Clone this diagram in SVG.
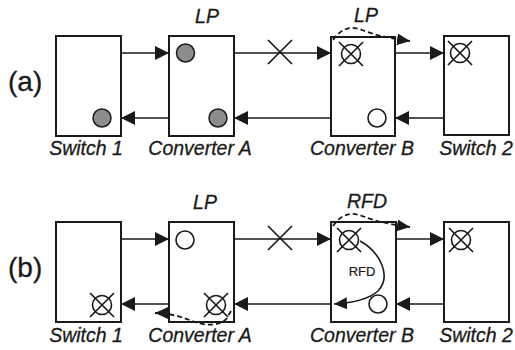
<svg xmlns="http://www.w3.org/2000/svg" width="515" height="350" viewBox="0 0 515 350">
<defs>
<style>
.box{fill:#fff;stroke:#1a1a1a;stroke-width:2}
.ln{fill:none;stroke:#1a1a1a;stroke-width:1.5}
.dash{fill:none;stroke:#1a1a1a;stroke-width:1.8;stroke-dasharray:5,3}
.crv{fill:none;stroke:#1a1a1a;stroke-width:1.6}
.gray{fill:#8c8c8c;stroke:#1a1a1a;stroke-width:1.5}
.open{fill:#fff;stroke:#1a1a1a;stroke-width:1.6}
.xm{fill:none;stroke:#1a1a1a;stroke-width:1.7}
.lbl{font-family:"Liberation Sans",Arial,sans-serif;font-style:italic;font-size:19.5px;fill:#1a1a1a;stroke:#1a1a1a;stroke-width:0.3;text-anchor:middle}
.top{font-family:"Liberation Sans",Arial,sans-serif;font-style:italic;font-size:19.5px;fill:#1a1a1a;stroke:#1a1a1a;stroke-width:0.3;text-anchor:middle}
.pan{font-family:"Liberation Sans",Arial,sans-serif;font-size:28px;fill:#1a1a1a;stroke:#1a1a1a;stroke-width:0.3}
.sm{font-family:"Liberation Sans",Arial,sans-serif;font-size:13px;fill:#1a1a1a;stroke:#1a1a1a;stroke-width:0.2;text-anchor:middle}
</style>
<marker id="ah" markerWidth="15" markerHeight="14" refX="14" refY="7" orient="auto" markerUnits="userSpaceOnUse"><path d="M0,0 L14,7 L0,14 z" fill="#1a1a1a"/></marker>
<marker id="ahs" markerWidth="14" markerHeight="12" refX="13" refY="6" orient="auto" markerUnits="userSpaceOnUse"><path d="M0,0 L13,6 L0,12 z" fill="#1a1a1a"/></marker>
<symbol id="cx" overflow="visible"><circle cx="0" cy="0" r="9.5" class="open"/><path d="M-12,-12 L12,12 M12,-12 L-12,12" class="xm"/></symbol>
</defs>
<rect width="515" height="350" fill="#fff"/>

<text class="pan" x="8" y="91">(a)</text>
<text class="pan" x="8" y="277">(b)</text>

<g id="panel-a">
<g id="a-switch1"><rect class="box" x="56" y="36" width="65" height="100"/><circle class="gray" cx="102" cy="118" r="9"/><text class="lbl" x="86" y="155">Switch 1</text></g>
<g id="a-convA"><rect class="box" x="169" y="36" width="65" height="100"/><circle class="gray" cx="185.5" cy="53" r="9"/><circle class="gray" cx="218" cy="118" r="9"/><text class="lbl" x="200" y="155">Converter A</text><text class="top" x="207" y="23">LP</text></g>
<g id="a-convB"><rect class="box" x="331" y="37" width="64" height="99"/><use href="#cx" x="351" y="54"/><circle class="open" cx="377" cy="118" r="9"/><text class="lbl" x="362" y="155">Converter B</text><text class="top" x="366" y="22">LP</text></g>
<g id="a-switch2"><rect class="box" x="444" y="36" width="65" height="99"/><use href="#cx" x="460" y="53"/><text class="lbl" x="476" y="155">Switch 2</text></g>
</g>

<g id="panel-b">
<g id="b-switch1"><rect class="box" x="56" y="222" width="65" height="100"/><use href="#cx" x="102" y="305"/><text class="lbl" x="86" y="342">Switch 1</text></g>
<g id="b-convA"><rect class="box" x="169" y="222" width="65" height="100"/><circle class="open" cx="185" cy="240" r="9"/><use href="#cx" x="216" y="305"/><text class="lbl" x="200" y="342">Converter A</text><text class="top" x="205" y="209">LP</text></g>
<g id="b-convB"><rect class="box" x="331" y="222" width="65" height="100"/><use href="#cx" x="349" y="240"/><circle class="open" cx="378" cy="304" r="9"/><text class="sm" x="362" y="276">RFD</text><text class="lbl" x="362" y="342">Converter B</text><text class="top" x="367" y="208">RFD</text></g>
<g id="b-switch2"><rect class="box" x="444" y="222" width="65" height="100"/><use href="#cx" x="461" y="240"/><text class="lbl" x="476" y="342">Switch 2</text></g>
</g>

<g id="connectors">
<line class="ln" x1="121" y1="53" x2="169" y2="53" marker-end="url(#ah)"/>
<line class="ln" x1="234" y1="53" x2="331" y2="53" marker-end="url(#ah)"/>
<line class="ln" x1="395" y1="53" x2="444" y2="53" marker-end="url(#ah)"/>
<line class="ln" x1="444" y1="118" x2="395" y2="118" marker-end="url(#ah)"/>
<line class="ln" x1="331" y1="118" x2="234" y2="118" marker-end="url(#ah)"/>
<line class="ln" x1="169" y1="118" x2="121" y2="118" marker-end="url(#ah)"/>
<path class="xm" d="M268,40 L292,64 M292,40 L268,64"/>
<path class="dash" d="M333,40 Q345,23 362,30 T410,41" marker-end="url(#ahs)"/>

<line class="ln" x1="121" y1="239" x2="169" y2="239" marker-end="url(#ah)"/>
<line class="ln" x1="234" y1="239" x2="331" y2="239" marker-end="url(#ah)"/>
<line class="ln" x1="396" y1="239" x2="444" y2="239" marker-end="url(#ah)"/>
<line class="ln" x1="444" y1="304" x2="396" y2="304" marker-end="url(#ah)"/>
<line class="ln" x1="331" y1="304" x2="234" y2="304" marker-end="url(#ah)"/>
<line class="ln" x1="169" y1="304" x2="121" y2="304" marker-end="url(#ah)"/>
<path class="xm" d="M268,226 L292,250 M292,226 L268,250"/>
<path class="dash" d="M333,226 Q345,209 362,216 T410,227" marker-end="url(#ahs)"/>
<path class="dash" d="M231,311 L227,318 C221,326 206,326 195,322 S172,313 155,313" marker-end="url(#ahs)"/>
<path class="crv" d="M360,241 C380,252 392,276 378,291 C369,299 352,303 334,304" marker-end="url(#ahs)"/>
</g>
</svg>
